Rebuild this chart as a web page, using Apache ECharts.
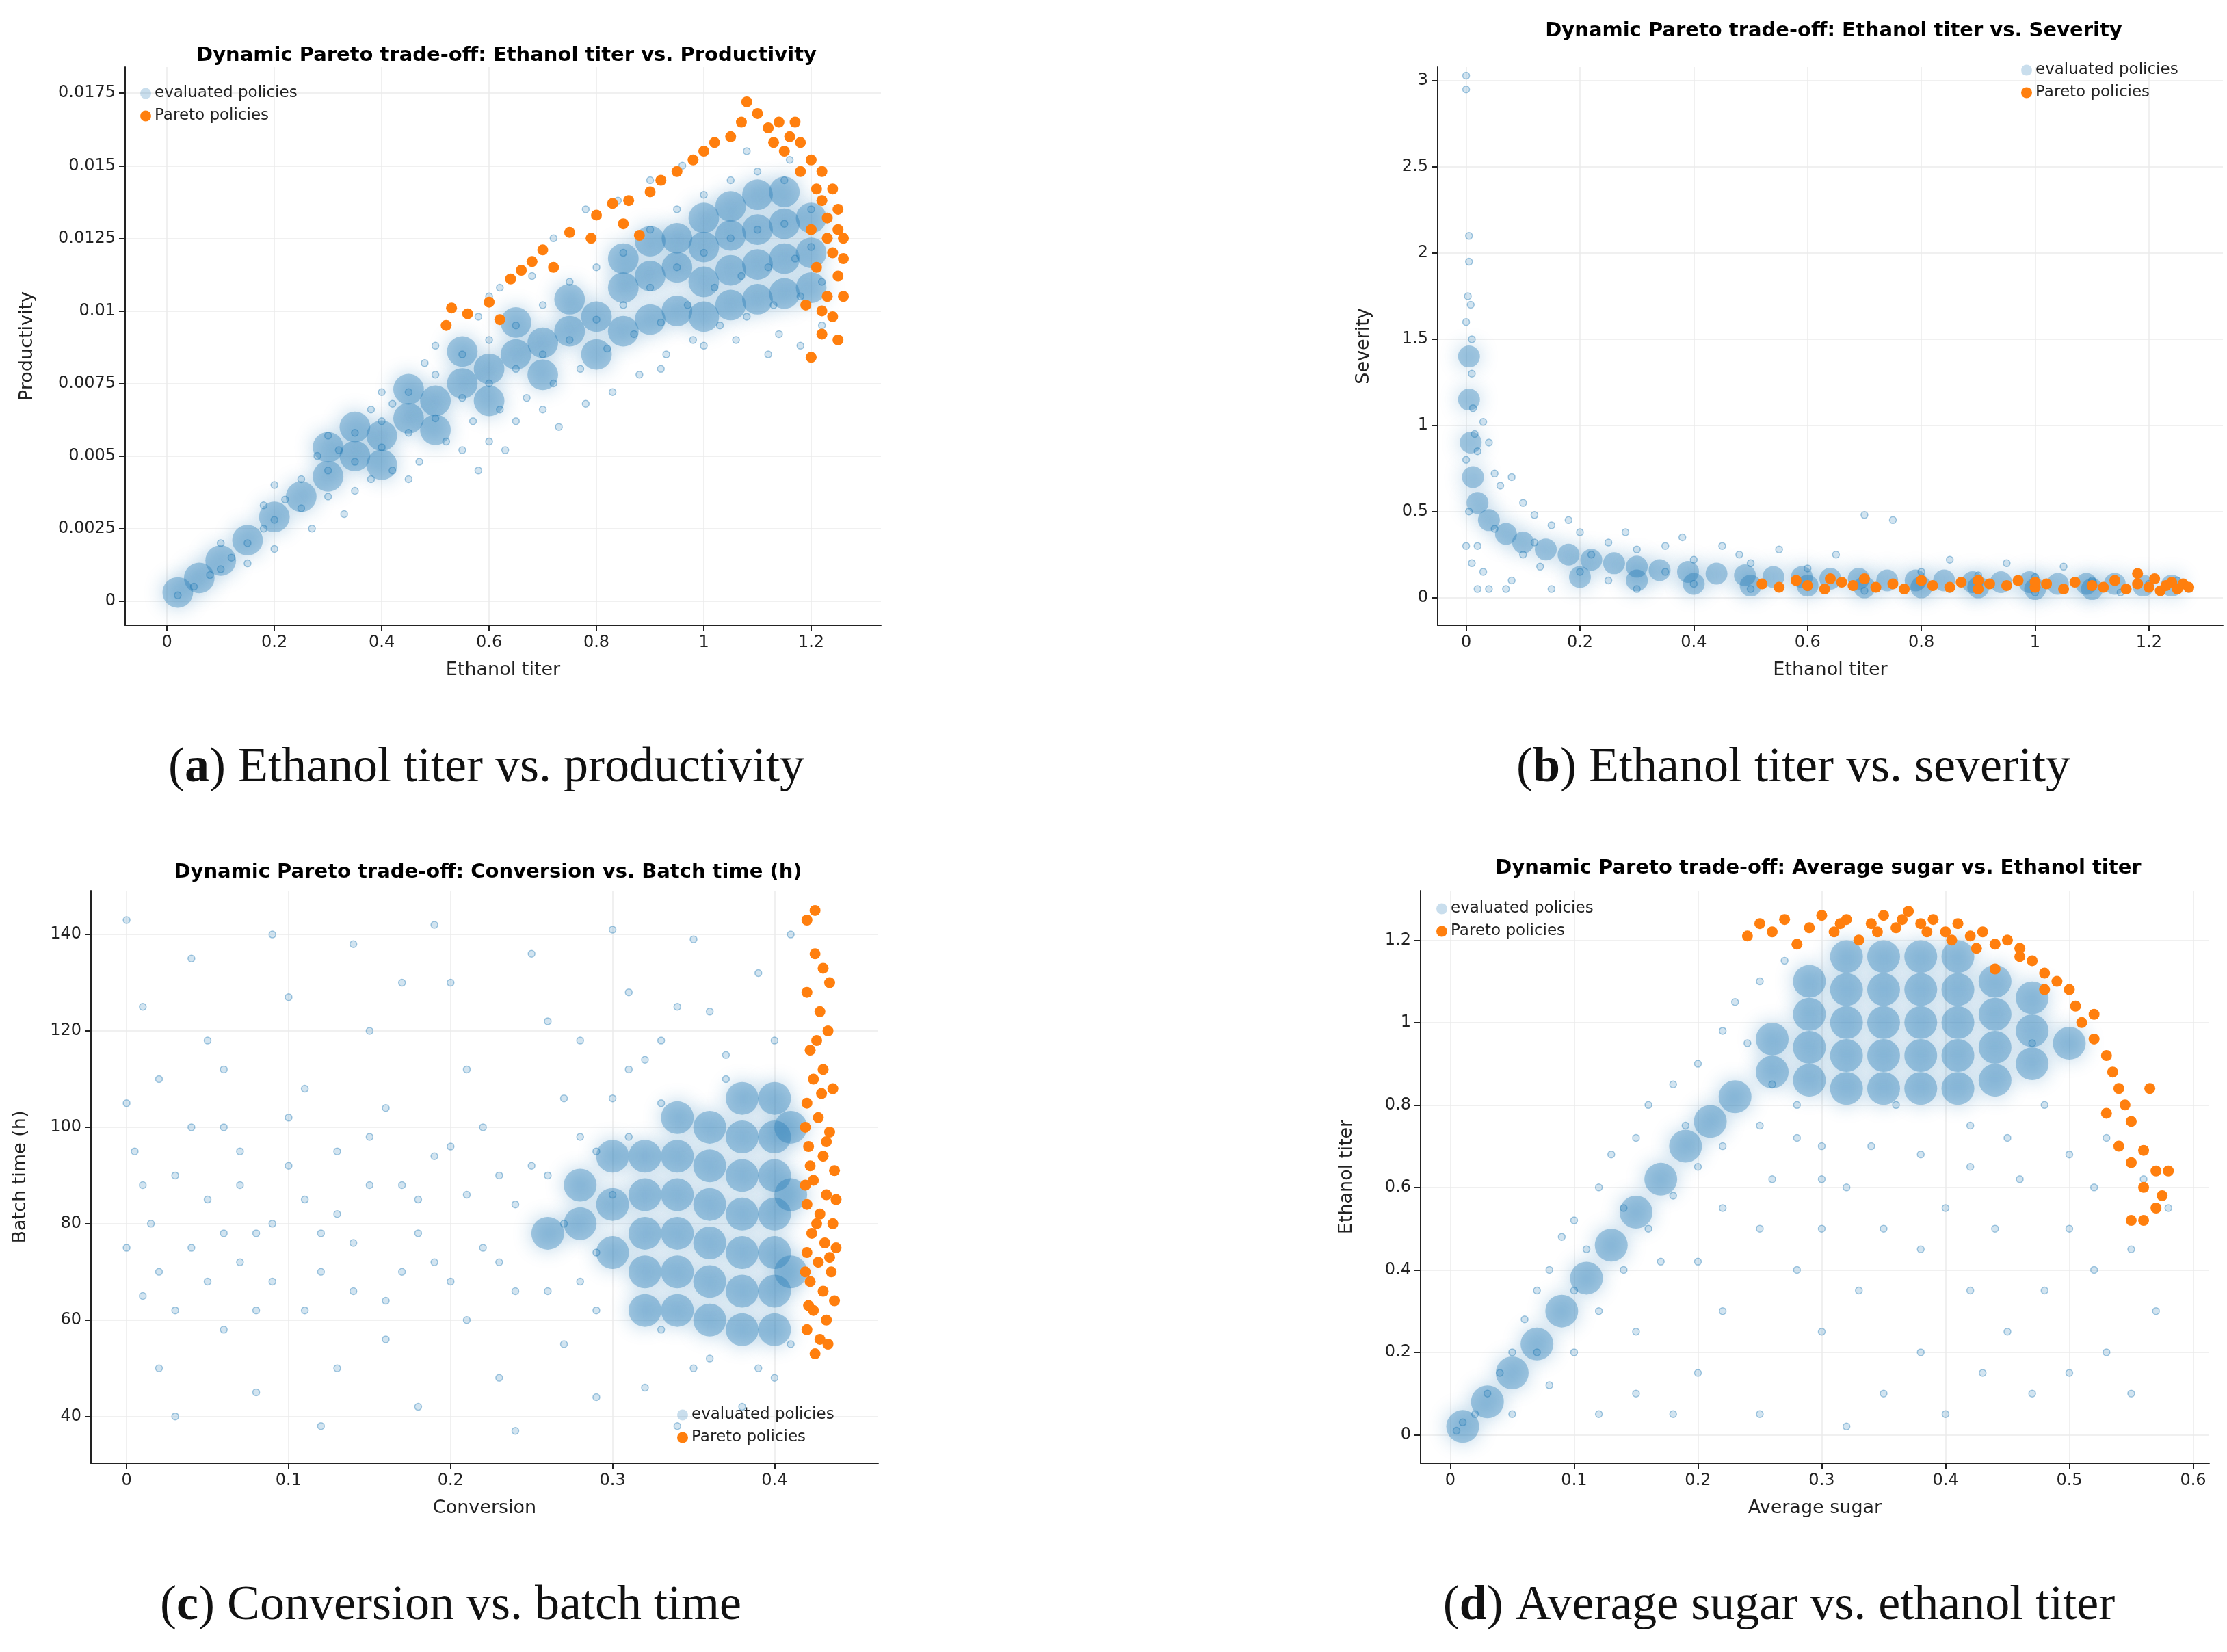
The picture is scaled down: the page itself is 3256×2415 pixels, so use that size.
<!DOCTYPE html>
<html>
<head>
<meta charset="UTF-8">
<title>Dynamic Pareto trade-off</title>
<script src="https://cdn.jsdelivr.net/npm/echarts@6/dist/echarts.min.js"></script>
<style>
  * {margin: 0; padding: 0;}
  html, body {width: 3256px; height: 2415px; background: #fff;}
</style>
</head>
<body>
<div id="chart" style="width:3256px;height:2415px"></div>
<script>
// ---- panel a: ethanol titer vs productivity
var aEval = [[0.02,0.0002],[0.05,0.0005],[0.08,0.0009],[0.1,0.0011],[0.12,0.0015],[0.15,0.002],[0.15,0.0013],[0.18,0.0025],[0.2,0.0028],[0.2,0.0018],[0.22,0.0035],[0.25,0.0032],[0.25,0.0042],[0.27,0.0025],[0.3,0.0045],[0.3,0.0036],[0.32,0.0052],[0.33,0.003],[0.35,0.0048],[0.35,0.0058],[0.38,0.0042],[0.4,0.0062],[0.4,0.0053],[0.42,0.0068],[0.42,0.0045],[0.45,0.0058],[0.45,0.0072],[0.47,0.0048],[0.5,0.0078],[0.5,0.0063],[0.52,0.0055],[0.55,0.0085],[0.55,0.007],[0.57,0.0062],[0.58,0.0045],[0.6,0.009],[0.6,0.0075],[0.62,0.0066],[0.63,0.0052],[0.65,0.0095],[0.65,0.008],[0.67,0.007],[0.7,0.0102],[0.7,0.0085],[0.72,0.0075],[0.73,0.006],[0.75,0.011],[0.75,0.009],[0.77,0.008],[0.78,0.0068],[0.8,0.0115],[0.8,0.0097],[0.82,0.0087],[0.83,0.0072],[0.85,0.012],[0.85,0.0102],[0.87,0.0092],[0.88,0.0078],[0.9,0.0128],[0.9,0.0108],[0.92,0.0096],[0.93,0.0085],[0.95,0.0135],[0.95,0.0115],[0.97,0.0102],[0.98,0.009],[1.0,0.014],[1.0,0.012],[1.02,0.0108],[1.03,0.0095],[1.05,0.0145],[1.05,0.0125],[1.07,0.0112],[1.08,0.0098],[1.1,0.0148],[1.1,0.0128],[1.12,0.0115],[1.13,0.0102],[1.15,0.0145],[1.15,0.013],[1.17,0.0118],[1.18,0.0105],[1.2,0.0135],[1.2,0.0122],[1.22,0.011],[1.12,0.0085],[1.18,0.0088],[0.6,0.0105],[0.5,0.0088],[0.4,0.0072],[0.3,0.0057],[0.2,0.004],[0.1,0.002],[0.78,0.0135],[0.68,0.0112],[0.58,0.0098],[0.48,0.0082],[0.38,0.0066],[0.28,0.005],[0.18,0.0033],[0.65,0.0062],[0.55,0.0052],[0.45,0.0042],[0.35,0.0038],[0.72,0.0125],[0.62,0.0108],[0.84,0.0138],[0.9,0.0145],[0.96,0.015],[1.08,0.0155],[1.16,0.0152],[1.0,0.0088],[1.06,0.009],[1.14,0.0092],[1.22,0.0095],[0.92,0.008],[0.7,0.0066],[0.6,0.0055]];
var aCore = [[0.02,0.0003],[0.06,0.0008],[0.1,0.0014],[0.15,0.0021],[0.2,0.0029],[0.25,0.0036],[0.3,0.0043],[0.35,0.005],[0.4,0.0057],[0.45,0.0063],[0.5,0.0069],[0.55,0.0075],[0.6,0.008],[0.65,0.0085],[0.7,0.0089],[0.75,0.0093],[0.3,0.0053],[0.35,0.006],[0.4,0.0047],[0.45,0.0073],[0.5,0.0059],[0.55,0.0086],[0.6,0.0069],[0.65,0.0096],[0.7,0.0078],[0.75,0.0104],[0.8,0.0085],[0.8,0.0098],[0.85,0.0093],[0.85,0.0108],[0.9,0.0097],[0.9,0.0112],[0.95,0.01],[0.95,0.0115],[0.95,0.0125],[1.0,0.0098],[1.0,0.011],[1.0,0.0122],[1.0,0.0132],[1.05,0.0102],[1.05,0.0114],[1.05,0.0126],[1.05,0.0136],[1.1,0.0104],[1.1,0.0116],[1.1,0.0128],[1.1,0.014],[1.15,0.0106],[1.15,0.0118],[1.15,0.013],[1.15,0.0141],[1.2,0.0108],[1.2,0.012],[1.2,0.0132],[0.9,0.0124],[0.85,0.0118]];
var aPareto = [[0.52,0.0095],[0.53,0.0101],[0.56,0.0099],[0.6,0.0103],[0.62,0.0097],[0.64,0.0111],[0.66,0.0114],[0.68,0.0117],[0.7,0.0121],[0.72,0.0115],[0.75,0.0127],[0.8,0.0133],[0.83,0.0137],[0.86,0.0138],[0.88,0.0126],[0.9,0.0141],[0.92,0.0145],[0.95,0.0148],[0.98,0.0152],[1.0,0.0155],[1.02,0.0158],[1.05,0.016],[1.07,0.0165],[1.08,0.0172],[1.1,0.0168],[1.12,0.0163],[1.14,0.0165],[1.16,0.016],[1.18,0.0158],[1.2,0.0152],[1.22,0.0148],[1.24,0.0142],[1.25,0.0135],[1.25,0.0128],[1.24,0.012],[1.25,0.0112],[1.23,0.0105],[1.24,0.0098],[1.22,0.0092],[1.25,0.009],[1.2,0.0084],[1.21,0.0115],[1.23,0.0125],[1.2,0.0128],[1.22,0.0138],[1.18,0.0148],[1.15,0.0155],[1.26,0.0118],[1.26,0.0105],[1.19,0.0102],[0.79,0.0125],[0.85,0.013],[1.13,0.0158],[1.17,0.0165],[1.21,0.0142],[1.23,0.0132],[1.26,0.0125],[1.22,0.01]];
var aXTicks = [0, 0.2, 0.4, 0.6, 0.8, 1, 1.2];
var aYTicks = [0, 0.0025, 0.005, 0.0075, 0.01, 0.0125, 0.015, 0.0175];

// ---- panel b: ethanol titer vs severity
var bEval = [[0,3.03],[0,2.95],[0.005,2.1],[0.005,1.95],[0.008,1.7],[0.01,1.5],[0.01,1.3],[0.012,1.1],[0.015,0.95],[0.02,0.85],[0.03,1.02],[0.04,0.9],[0.05,0.72],[0.06,0.65],[0.08,0.7],[0.1,0.55],[0.12,0.48],[0.15,0.42],[0.18,0.45],[0.2,0.38],[0.25,0.32],[0.3,0.28],[0.35,0.3],[0.4,0.22],[0.5,0.2],[0.6,0.17],[0.7,0.48],[0.75,0.45],[0.8,0.15],[0.9,0.13],[1.0,0.12],[1.1,0.1],[1.2,0.08],[0.02,0.3],[0.03,0.15],[0.04,0.05],[0.05,0.4],[0.08,0.1],[0.1,0.25],[0.15,0.05],[0.2,0.15],[0.25,0.1],[0.3,0.05],[0.4,0.08],[0.5,0.05],[0.6,0.06],[0.7,0.04],[0.85,0.05],[1.0,0.03],[1.15,0.03],[0,0.8],[0.005,0.5],[0.01,0.2],[0.12,0.32],[0.22,0.25],[0.35,0.15],[0.45,0.3],[0.55,0.28],[0.65,0.25],[0.85,0.22],[0.95,0.2],[1.05,0.18],[1.25,0.1],[1.27,0.05],[0.07,0.05],[0.13,0.18],[0.28,0.38],[0.38,0.35],[0.48,0.25],[0.0,1.6],[0.003,1.75],[0.0,0.3],[0.02,0.05]];
var bCore = [[0.005,1.4],[0.005,1.15],[0.008,0.9],[0.012,0.7],[0.02,0.55],[0.04,0.45],[0.07,0.37],[0.1,0.32],[0.14,0.28],[0.18,0.25],[0.22,0.22],[0.26,0.2],[0.3,0.18],[0.34,0.16],[0.39,0.15],[0.44,0.14],[0.49,0.13],[0.54,0.12],[0.59,0.12],[0.64,0.11],[0.69,0.11],[0.74,0.1],[0.79,0.1],[0.84,0.1],[0.89,0.09],[0.94,0.09],[0.99,0.09],[1.04,0.08],[1.09,0.08],[1.14,0.08],[1.19,0.07],[1.24,0.07],[0.2,0.12],[0.3,0.1],[0.4,0.08],[0.5,0.07],[0.6,0.07],[0.7,0.06],[0.8,0.06],[0.9,0.06],[1.0,0.05],[1.1,0.05]];
var bPareto = [[0.52,0.08],[0.55,0.06],[0.58,0.1],[0.6,0.07],[0.63,0.05],[0.66,0.09],[0.68,0.07],[0.7,0.11],[0.72,0.06],[0.75,0.08],[0.77,0.05],[0.8,0.1],[0.82,0.07],[0.85,0.06],[0.87,0.09],[0.9,0.05],[0.92,0.08],[0.95,0.07],[0.97,0.1],[1.0,0.06],[1.02,0.08],[1.05,0.05],[1.07,0.09],[1.1,0.07],[1.12,0.06],[1.14,0.1],[1.16,0.05],[1.18,0.08],[1.2,0.06],[1.21,0.11],[1.22,0.04],[1.23,0.07],[1.24,0.09],[1.25,0.05],[1.26,0.08],[1.27,0.06],[1.18,0.14],[0.64,0.11],[0.9,0.1],[1.0,0.09]];
var bXTicks = [0, 0.2, 0.4, 0.6, 0.8, 1, 1.2];
var bYTicks = [0, 0.5, 1, 1.5, 2, 2.5, 3];

// ---- panel c: conversion vs batch time
var cEval = [[0.0,143],[0.01,125],[0.02,110],[0.005,95],[0.015,80],[0.01,65],[0.02,50],[0.03,40],[0.04,135],[0.05,118],[0.06,100],[0.05,85],[0.07,72],[0.06,58],[0.08,45],[0.09,140],[0.1,127],[0.11,108],[0.1,92],[0.12,78],[0.11,62],[0.13,50],[0.12,38],[0.14,138],[0.15,120],[0.16,104],[0.15,88],[0.17,70],[0.16,56],[0.18,42],[0.19,142],[0.2,130],[0.21,112],[0.2,96],[0.22,75],[0.21,60],[0.23,48],[0.24,37],[0.25,136],[0.26,122],[0.27,106],[0.26,90],[0.28,68],[0.27,55],[0.29,44],[0.3,141],[0.31,128],[0.32,114],[0.31,98],[0.33,58],[0.32,46],[0.34,38],[0.35,139],[0.36,124],[0.37,110],[0.36,52],[0.38,42],[0.39,132],[0.4,118],[0.41,140],[0.4,48],[0.41,55],[0.03,90],[0.04,75],[0.07,88],[0.08,62],[0.09,80],[0.13,95],[0.14,66],[0.18,85],[0.19,72],[0.23,90],[0.24,66],[0.29,95],[0.33,105],[0.02,70],[0.06,112],[0.17,130],[0.28,118],[0.34,125],[0.03,62],[0.05,68],[0.07,95],[0.08,78],[0.09,68],[0.1,102],[0.11,85],[0.12,70],[0.13,82],[0.14,76],[0.15,98],[0.16,64],[0.17,88],[0.18,78],[0.19,94],[0.2,68],[0.21,86],[0.22,100],[0.23,72],[0.24,84],[0.25,92],[0.26,66],[0.27,80],[0.28,98],[0.29,74],[0.3,86],[0.3,106],[0.29,62],[0.31,112],[0.33,118],[0.35,50],[0.37,115],[0.39,50],[0.01,88],[0.04,100],[0.06,78],[0.0,105],[0.0,75]];
var cCore = [[0.32,62],[0.32,70],[0.32,78],[0.32,86],[0.32,94],[0.34,62],[0.34,70],[0.34,78],[0.34,86],[0.34,94],[0.34,102],[0.36,60],[0.36,68],[0.36,76],[0.36,84],[0.36,92],[0.36,100],[0.38,58],[0.38,66],[0.38,74],[0.38,82],[0.38,90],[0.38,98],[0.38,106],[0.4,58],[0.4,66],[0.4,74],[0.4,82],[0.4,90],[0.4,98],[0.4,106],[0.41,70],[0.41,86],[0.41,100],[0.3,74],[0.3,84],[0.3,94],[0.28,80],[0.28,88],[0.26,78]];
var cPareto = [[0.42,143],[0.425,136],[0.43,133],[0.42,128],[0.428,124],[0.433,120],[0.422,116],[0.43,112],[0.436,108],[0.42,105],[0.427,102],[0.434,99],[0.421,96],[0.43,94],[0.437,91],[0.424,89],[0.432,86],[0.42,84],[0.428,82],[0.436,80],[0.423,78],[0.431,76],[0.42,74],[0.427,72],[0.435,70],[0.422,68],[0.43,66],[0.437,64],[0.424,62],[0.432,60],[0.42,58],[0.428,56],[0.425,53],[0.433,55],[0.438,85],[0.438,75],[0.419,100],[0.419,88],[0.419,70],[0.426,118],[0.434,130],[0.425,145],[0.422,92],[0.432,97],[0.426,80],[0.434,73],[0.421,63],[0.429,107],[0.424,110]];
var cXTicks = [0, 0.1, 0.2, 0.3, 0.4];
var cYTicks = [40, 60, 80, 100, 120, 140];

// ---- panel d: average sugar vs ethanol titer
var dEval = [[0.005,0.01],[0.01,0.03],[0.02,0.05],[0.03,0.1],[0.04,0.15],[0.05,0.2],[0.06,0.28],[0.07,0.35],[0.08,0.4],[0.09,0.48],[0.1,0.52],[0.12,0.6],[0.13,0.68],[0.15,0.72],[0.16,0.8],[0.18,0.85],[0.2,0.9],[0.22,0.98],[0.23,1.05],[0.25,1.1],[0.27,1.15],[0.05,0.05],[0.08,0.12],[0.1,0.2],[0.12,0.3],[0.14,0.4],[0.16,0.5],[0.18,0.58],[0.2,0.65],[0.22,0.7],[0.25,0.75],[0.28,0.8],[0.3,0.7],[0.32,0.6],[0.35,0.5],[0.38,0.45],[0.4,0.55],[0.42,0.65],[0.45,0.72],[0.48,0.8],[0.5,0.68],[0.52,0.6],[0.55,0.45],[0.57,0.3],[0.53,0.2],[0.5,0.15],[0.45,0.25],[0.42,0.35],[0.38,0.2],[0.35,0.1],[0.3,0.25],[0.28,0.4],[0.25,0.5],[0.22,0.3],[0.2,0.15],[0.18,0.05],[0.15,0.1],[0.12,0.05],[0.25,0.05],[0.32,0.02],[0.4,0.05],[0.47,0.1],[0.55,0.1],[0.58,0.55],[0.48,0.35],[0.43,0.15],[0.33,0.35],[0.36,0.8],[0.47,0.95],[0.44,0.5],[0.3,0.5],[0.26,0.62],[0.1,0.35],[0.07,0.2],[0.15,0.25],[0.2,0.42],[0.52,0.4],[0.56,0.62],[0.24,0.95],[0.26,0.85],[0.28,0.72],[0.3,0.62],[0.34,0.7],[0.38,0.68],[0.42,0.75],[0.46,0.62],[0.5,0.5],[0.53,0.72],[0.22,0.55],[0.17,0.42],[0.14,0.55],[0.11,0.45],[0.19,0.75]];
var dCore = [[0.01,0.02],[0.03,0.08],[0.05,0.15],[0.07,0.22],[0.09,0.3],[0.11,0.38],[0.13,0.46],[0.15,0.54],[0.17,0.62],[0.19,0.7],[0.21,0.76],[0.23,0.82],[0.26,0.88],[0.26,0.96],[0.29,0.86],[0.29,0.94],[0.29,1.02],[0.29,1.1],[0.32,0.84],[0.32,0.92],[0.32,1.0],[0.32,1.08],[0.32,1.16],[0.35,0.84],[0.35,0.92],[0.35,1.0],[0.35,1.08],[0.35,1.16],[0.38,0.84],[0.38,0.92],[0.38,1.0],[0.38,1.08],[0.38,1.16],[0.41,0.84],[0.41,0.92],[0.41,1.0],[0.41,1.08],[0.41,1.16],[0.44,0.86],[0.44,0.94],[0.44,1.02],[0.44,1.1],[0.47,0.9],[0.47,0.98],[0.47,1.06],[0.5,0.95]];
var dPareto = [[0.24,1.21],[0.25,1.24],[0.26,1.22],[0.27,1.25],[0.28,1.19],[0.29,1.23],[0.3,1.26],[0.31,1.22],[0.32,1.25],[0.33,1.2],[0.34,1.24],[0.35,1.26],[0.36,1.23],[0.37,1.27],[0.38,1.24],[0.39,1.25],[0.4,1.22],[0.41,1.24],[0.42,1.21],[0.43,1.22],[0.44,1.19],[0.45,1.2],[0.46,1.16],[0.47,1.15],[0.48,1.12],[0.49,1.1],[0.5,1.08],[0.505,1.04],[0.51,1.0],[0.52,0.96],[0.53,0.92],[0.535,0.88],[0.54,0.84],[0.545,0.8],[0.55,0.76],[0.53,0.78],[0.54,0.7],[0.55,0.66],[0.56,0.69],[0.57,0.64],[0.58,0.64],[0.56,0.6],[0.575,0.58],[0.57,0.55],[0.55,0.52],[0.56,0.52],[0.565,0.84],[0.48,1.08],[0.46,1.18],[0.44,1.13],[0.52,1.02],[0.315,1.24],[0.345,1.22],[0.365,1.25],[0.385,1.22],[0.405,1.2],[0.425,1.18]];
var dXTicks = [0, 0.1, 0.2, 0.3, 0.4, 0.5, 0.6];
var dYTicks = [0, 0.2, 0.4, 0.6, 0.8, 1, 1.2];

var BLUE = '#1f77b4', ORANGE = '#ff7f0e';

var panels = [
  {title: 'Dynamic Pareto trade-off: Ethanol titer vs. Productivity', xName: 'Ethanol titer', yName: 'Productivity',
   grid: {left: 183, top: 98, width: 1105, height: 816}, xr: [-0.078, 1.33], yr: [-0.00083, 0.0184],
   xt: aXTicks, yt: aYTicks, ev: aEval, core: aCore, par: aPareto, coreSize: 56, titleTop: 62, legend: {left: 200, top: 120}},
  {title: 'Dynamic Pareto trade-off: Ethanol titer vs. Severity', xName: 'Ethanol titer', yName: 'Severity',
   grid: {left: 2102, top: 98, width: 1148, height: 816}, xr: [-0.05, 1.33], yr: [-0.16, 3.08],
   xt: bXTicks, yt: bYTicks, ev: bEval, core: bCore, par: bPareto, coreSize: 40, titleTop: 26, legend: {left: 2950, top: 86}},
  {title: 'Dynamic Pareto trade-off: Conversion vs. Batch time (h)', xName: 'Conversion', yName: 'Batch time (h)',
   grid: {left: 133, top: 1302, width: 1151, height: 837}, xr: [-0.022, 0.464], yr: [30.3, 149.1],
   xt: cXTicks, yt: cYTicks, ev: cEval, core: cCore, par: cPareto, coreSize: 60, titleTop: 1256, legend: {left: 985, top: 2052}},
  {title: 'Dynamic Pareto trade-off: Average sugar vs. Ethanol titer', xName: 'Average sugar', yName: 'Ethanol titer',
   grid: {left: 2077, top: 1302, width: 1153, height: 837}, xr: [-0.024, 0.613], yr: [-0.069, 1.32],
   xt: dXTicks, yt: dYTicks, ev: dEval, core: dCore, par: dPareto, coreSize: 60, titleTop: 1250, legend: {left: 2095, top: 1312}}
];

var captions = [
  {l: 'a', t: ' Ethanol titer vs. productivity', x: 706, y: 1122},
  {l: 'b', t: ' Ethanol titer vs. severity', x: 2617, y: 1122},
  {l: 'c', t: ' Conversion vs. batch time', x: 654, y: 2347},
  {l: 'd', t: ' Average sugar vs. ethanol titer', x: 2596, y: 2347}
];

var option = {backgroundColor: '#fff', animation: false, title: [], grid: [], xAxis: [], yAxis: [], legend: [], series: []};

function axis(range, ticks, name, gap, idx) {
  return {
    type: 'value', gridIndex: idx, min: range[0], max: range[1],
    name: name, nameLocation: 'middle', nameGap: gap,
    nameTextStyle: {fontFamily: 'DejaVu Sans', fontSize: 27, color: '#222'},
    axisLine: {show: true, onZero: false, lineStyle: {color: '#222', width: 2}},
    axisTick: {show: true, length: 9, lineStyle: {color: '#222', width: 2}, customValues: ticks},
    axisLabel: {fontFamily: 'DejaVu Sans', fontSize: 24, color: '#222', margin: 14, customValues: ticks},
    splitLine: {show: true, lineStyle: {color: '#ebebeb', width: 1.5}}
  };
}

panels.forEach(function (p, i) {
  option.title.push({text: p.title, left: p.grid.left + p.grid.width / 2, top: p.titleTop, textAlign: 'center',
    textStyle: {fontFamily: 'DejaVu Sans', fontWeight: 'bold', fontSize: 29, color: '#000'}});
  option.grid.push(p.grid);
  option.xAxis.push(axis(p.xr, p.xt, p.xName, 52, i));
  option.yAxis.push(axis(p.yr, p.yt, p.yName, i === 0 ? 130 : (i === 2 ? 90 : 95), i));
  option.legend.push({left: p.legend.left, top: p.legend.top, orient: 'vertical', itemGap: 10,
    itemWidth: 16, itemHeight: 16, textStyle: {fontFamily: 'DejaVu Sans', fontSize: 23, color: '#222'},
    data: [{name: 'evaluated policies', icon: 'circle', itemStyle: {color: 'rgba(31,119,180,0.3)', shadowBlur: 0}},
           {name: 'Pareto policies', icon: 'circle'}]});
  option.series.push(
    {name: 'evaluated policies', type: 'scatter', xAxisIndex: i, yAxisIndex: i, data: p.core, symbolSize: p.coreSize * 0.8,
     itemStyle: {color: 'rgba(31,119,180,0.45)', shadowBlur: 28, shadowColor: 'rgba(31,119,180,0.9)'}, z: 1},
    {name: 'evaluated policies', type: 'scatter', xAxisIndex: i, yAxisIndex: i, data: p.ev, symbolSize: 10,
     itemStyle: {color: 'rgba(31,119,180,0.25)', borderColor: 'rgba(31,119,180,0.5)', borderWidth: 1.5}, z: 2},
    {name: 'Pareto policies', type: 'scatter', xAxisIndex: i, yAxisIndex: i, data: p.par, symbolSize: 16,
     itemStyle: {color: ORANGE, opacity: 1}, z: 3}
  );
});

captions.forEach(function (c) {
  option.title.push({text: '{p|(}{b|' + c.l + '}{p|)' + c.t + '}', left: c.x, top: c.y - 40, textAlign: 'center',
    textStyle: {fontWeight: 'normal', rich: {
      p: {fontFamily: 'Liberation Serif', fontSize: 72, fontWeight: 'normal', color: '#111'},
      b: {fontFamily: 'Liberation Serif', fontSize: 72, fontWeight: 'bold', color: '#111'}
    }}});
});

var chart = echarts.init(document.getElementById('chart'));
chart.setOption(option);
</script>
</body>
</html>
